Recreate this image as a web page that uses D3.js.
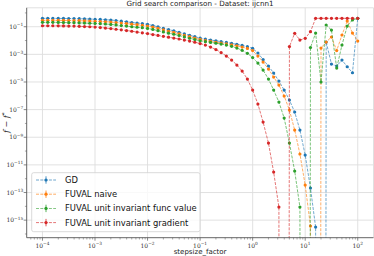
<!DOCTYPE html>
<html><head><meta charset="utf-8">
<script src="https://cdn.jsdelivr.net/npm/d3@7"></script>
<style>body{margin:0;background:#fff}</style>
</head><body><svg id="c" width="374" height="256"></svg>
<script>
const stepsize = [
1.00e-4,1.26e-4,1.58e-4,2.00e-4,2.51e-4,3.16e-4,3.98e-4,5.01e-4,6.31e-4,7.94e-4,
1.00e-3,1.26e-3,1.58e-3,2.00e-3,2.51e-3,3.16e-3,3.98e-3,5.01e-3,6.31e-3,7.94e-3,
1.00e-2,1.26e-2,1.58e-2,2.00e-2,2.51e-2,3.16e-2,3.98e-2,5.01e-2,6.31e-2,7.94e-2,
1.00e-1,1.26e-1,1.58e-1,2.00e-1,2.51e-1,3.16e-1,3.98e-1,5.01e-1,6.31e-1,7.94e-1,
1.00,1.26,1.58,2.00,2.51,3.16,3.98,5.01,6.31,7.94,
10.0,12.6,15.8,20.0,25.1,31.6,39.8,50.1,63.1,79.4,
100];
const seriesNames = ["GD","FUVAL naive","FUVAL unit invariant func value","FUVAL unit invariant gradient"];
const gd = [0.406,0.406,0.402,0.399,0.396,0.392,0.386,0.380,0.370,0.361,
 0.349,0.335,0.321,0.306,0.281,0.254,0.226,0.201,0.185,0.171,
 0.149,0.122,0.0984,0.0766,0.0617,0.0505,0.0400,0.0306,0.0242,0.0189,
 0.0152,0.0127,0.0109,0.00953,0.00834,0.00730,0.00628,0.00532,0.00443,0.00362,
 0.00273,0.00125,4.22e-4,1.43e-4,4.44e-5,1.17e-5,2.61e-6,4.93e-7,6.66e-8,3.31e-9,
 5.13e-11,2.09e-13,3.13e-16,0,7.80e-3,1.99e-4,1.43e-4,3.88e-4,1.27e-4,4.67e-5,
 0.406];
const naive = [0.291,0.291,0.288,0.286,0.284,0.281,0.276,0.272,0.265,0.259,
 0.250,0.240,0.230,0.219,0.201,0.185,0.168,0.152,0.140,0.128,
 0.112,0.0936,0.0753,0.0586,0.0472,0.0387,0.0306,0.0238,0.0189,0.0150,
 0.0120,0.0100,0.00862,0.00754,0.00660,0.00578,0.00489,0.00414,0.00339,0.00268,
 0.00189,7.56e-4,2.78e-4,8.65e-5,2.28e-5,6.01e-6,9.59e-7,9.30e-8,3.31e-9,6.06e-11,
 3.45e-13,3.70e-16,0,2.87e-3,7.80e-3,0.0180,1.89e-3,0.0251,0.259,0.0350,
 9.22e-3];
const funcValue = [0.208,0.208,0.207,0.205,0.201,0.198,0.195,0.190,0.185,0.179,
 0.173,0.165,0.157,0.147,0.135,0.122,0.111,0.100,0.0920,0.0847,
 0.0753,0.0637,0.0522,0.0420,0.0344,0.0286,0.0231,0.0183,0.0147,0.0118,
 0.00953,0.00834,0.00730,0.00639,0.00559,0.00473,0.00381,0.00287,0.00196,0.00119,
 5.89e-4,2.35e-4,7.32e-5,1.63e-5,2.61e-6,3.53e-7,2.45e-8,3.79e-10,3.56e-12,8.80e-15,
 0,3.12e-3,0.0350,9.9e-6,0.133,0.0577,1.02e-4,0.00473,0.112,0.306,
 0.406];
const gradient = [0.118,0.118,0.118,0.116,0.114,0.112,0.111,0.107,0.103,0.100,
 0.0951,0.0875,0.0805,0.0729,0.0659,0.0596,0.0531,0.0472,0.0413,0.0362,
 0.0317,0.0272,0.0234,0.0202,0.0174,0.0150,0.0129,0.0109,0.00922,0.00754,
 0.00607,0.00473,0.00339,0.00223,0.00135,7.56e-4,3.88e-4,1.69e-4,6.20e-5,1.63e-5,
 2.61e-6,2.53e-7,1.26e-8,3.79e-10,3.01e-12,8.80e-15,0,3.68e-3,0.0333,0.0109,
 0.0145,0.0435,0.406,0.406,0.406,0.406,0.406,0.406,0.406,0.406,
 0.406];
const colors = ["#1f77b4","#ff7f0e","#2ca02c","#d62728"];
const xTickExps = [-4,-3,-2,-1,0,1,2];
const yTickExps = [-1,-3,-5,-7,-9,-11,-13,-15];
const yMinorExps = [0,-2,-4,-6,-8,-10,-12,-14,-16];
const title = "Grid search comparison - Dataset: ijcnn1";
const xLabel = "stepsize_factor";

const allSeries = [gd, naive, funcValue, gradient];
const L=26.7, R=373.5, T=7.8, B=237.7;
const x = d3.scaleLog().domain([Math.pow(10,-4.3), Math.pow(10,2.3)]).range([L,R]);
const y = d3.scaleLog().domain([Math.pow(10,-16.27), Math.pow(10,0.37)]).range([B,T]);
const svg = d3.select("#c");
const tickFont = "'DejaVu Serif', serif";
const sans = "'DejaVu Sans', sans-serif";

// grid
const g = svg.append("g");
g.selectAll(".gx").data(xTickExps).enter().append("line")
 .attr("x1",d=>x(Math.pow(10,d))).attr("x2",d=>x(Math.pow(10,d)))
 .attr("y1",T).attr("y2",B).attr("stroke","#dedede").attr("stroke-width",0.9);
g.selectAll(".gy").data(yTickExps).enter().append("line")
 .attr("y1",d=>y(Math.pow(10,d))).attr("y2",d=>y(Math.pow(10,d)))
 .attr("x1",L).attr("x2",R).attr("stroke","#dedede").attr("stroke-width",0.9);

// frame
svg.append("line").attr("x1",L).attr("x2",R).attr("y1",T).attr("y2",T).attr("stroke","#e0e0e0");
svg.append("line").attr("x1",R).attr("x2",R).attr("y1",T).attr("y2",B).attr("stroke","#e0e0e0");

// clip
svg.append("clipPath").attr("id","clip").append("rect").attr("x",L).attr("y",T).attr("width",R-L).attr("height",B-T);
const plot = svg.append("g").attr("clip-path","url(#clip)");

const line = d3.line().x(d=>x(d[0])).y(d=>y(Math.max(d[1],1e-300)));
allSeries.forEach((s,k)=>{
  const pts = stepsize.map((st,i)=>[st,s[i]]);
  plot.append("path").attr("d",line(pts)).attr("fill","none")
   .attr("stroke",colors[k]).attr("stroke-width",0.8).attr("stroke-dasharray","3,1.3").attr("opacity",0.8);
  plot.selectAll(null).data(pts.filter(p=>p[1]>0)).enter().append("circle")
   .attr("cx",p=>x(p[0])).attr("cy",p=>y(p[1])).attr("r",1.6).attr("fill",colors[k]);
});

// axes spines
svg.append("line").attr("x1",L).attr("x2",L).attr("y1",T).attr("y2",B).attr("stroke","#555").attr("stroke-width",0.9);
svg.append("line").attr("x1",L).attr("x2",R).attr("y1",B).attr("y2",B).attr("stroke","#555").attr("stroke-width",0.9);

// x ticks
xTickExps.forEach(e=>{
  const px = x(Math.pow(10,e));
  svg.append("line").attr("x1",px).attr("x2",px).attr("y1",B).attr("y2",B+3).attr("stroke","#555").attr("stroke-width",0.7);
  const t = svg.append("text").attr("x",px).attr("y",B+10).attr("text-anchor","middle")
   .attr("font-family",tickFont).attr("font-size",6).attr("fill","#333");
  t.append("tspan").text("10");
  t.append("tspan").attr("dy",-2.5).attr("font-size",4.3).text("\u2212"+"" + (e<0? "" : "")).text(e<0 ? "\u2212"+(-e) : String(e));
});
for (let e=-5; e<=2; e++) for (let m=2; m<=9; m++){
  const v = m*Math.pow(10,e);
  if (v < x.domain()[0] || v > x.domain()[1]) continue;
  const px = x(v);
  svg.append("line").attr("x1",px).attr("x2",px).attr("y1",B).attr("y2",B+1.8).attr("stroke","#555").attr("stroke-width",0.5);
}
// y ticks
yTickExps.forEach(e=>{
  const py = y(Math.pow(10,e));
  svg.append("line").attr("x1",L-3).attr("x2",L).attr("y1",py).attr("y2",py).attr("stroke","#555").attr("stroke-width",0.7);
  const t = svg.append("text").attr("x",L-3.5).attr("y",py+2).attr("text-anchor","end")
   .attr("font-family",tickFont).attr("font-size",6).attr("fill","#333");
  t.append("tspan").text("10");
  t.append("tspan").attr("dy",-2.5).attr("font-size",4.3).text("\u2212"+(-e));
});
yMinorExps.forEach(e=>{
  const v = Math.pow(10,e);
  if (v < y.domain()[0] || v > y.domain()[1]) return;
  const py = y(v);
  svg.append("line").attr("x1",L-1.8).attr("x2",L).attr("y1",py).attr("y2",py).attr("stroke","#555").attr("stroke-width",0.5);
});

// title & labels
svg.append("text").attr("x",(L+R)/2).attr("y",6).attr("text-anchor","middle")
 .attr("font-family",sans).attr("font-size",7.2).attr("fill","#222").text(title);
svg.append("text").attr("x",(L+R)/2).attr("y",253.5).attr("text-anchor","middle")
 .attr("font-family",sans).attr("font-size",7).attr("fill","#222").text(xLabel);
const yl = svg.append("text").attr("transform",`translate(9,${(T+B)/2}) rotate(-90)`).attr("text-anchor","middle")
 .attr("font-family",tickFont).attr("font-size",8).attr("fill","#222");
yl.append("tspan").attr("font-style","italic").text("f");
yl.append("tspan").text(" \u2212 ");
yl.append("tspan").attr("font-style","italic").text("f");
yl.append("tspan").attr("dy",-3).attr("font-size",5.5).text("*");

// legend
const lg = svg.append("g");
lg.append("rect").attr("x",31.7).attr("y",172.7).attr("width",168.3).attr("height",59).attr("rx",2)
 .attr("fill","#fff").attr("fill-opacity",0.8).attr("stroke","#d0d0d0").attr("stroke-width",0.8);
seriesNames.forEach((name,k)=>{
  const cy = 180 + k*14.2;
  lg.append("line").attr("x1",36).attr("x2",56).attr("y1",cy).attr("y2",cy)
   .attr("stroke",colors[k]).attr("stroke-width",0.8).attr("stroke-dasharray","3,1.3").attr("opacity",0.8);
  lg.append("line").attr("x1",46).attr("x2",46).attr("y1",cy-3.7).attr("y2",cy+3.7)
   .attr("stroke",colors[k]).attr("stroke-width",0.8);
  lg.append("circle").attr("cx",46).attr("cy",cy).attr("r",1.6).attr("fill",colors[k]);
  lg.append("text").attr("x",65).attr("y",cy+3).attr("font-family",sans).attr("font-size",8.4)
   .attr("fill","#111").text(name);
});
</script></body></html>
